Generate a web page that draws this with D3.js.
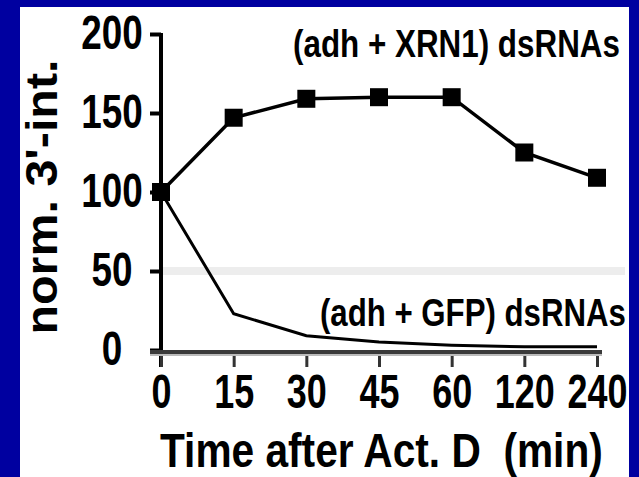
<!DOCTYPE html>
<html>
<head>
<meta charset="utf-8">
<script src="https://cdn.jsdelivr.net/npm/d3@7"></script>
<style>
  body { margin: 0; background: #0000a0; }
  svg { display: block; }
  text { font-family: "Liberation Sans", Arial, sans-serif; font-weight: bold; fill: #000; }
</style>
</head>
<body>
<svg id="chart" width="639" height="477"></svg>
<script>
// values
const timeLabels = ['0', '15', '30', '45', '60', '120', '240']
const xrn1Values = [100, 147, 159, 160, 160, 125, 109]
const gfpValues = [100, 23, 9, 5, 3, 2, 2]
const yTicks = [0, 50, 100, 150, 200]
const refLevel = 50

const svg = d3.select('#chart')

// the figure uses a narrow bold face, so squeeze text horizontally to a given width
function squeeze (node, width, pre) {
  let s = width / node.getComputedTextLength()
  let t = d3.select(node)
  let x0 = +t.attr('x') || 0
  t.attr('x', x0 / s)
  t.attr('transform', (pre || '') + ' scale(' + s + ',1)')
}

// white panel on the blue slide
svg.append('rect')
  .attr('x', 20).attr('y', 7)
  .attr('width', 609).attr('height', 470)
  .attr('fill', '#fff')

const x = d3.scalePoint()
  .domain(timeLabels)
  .range([161, 597])

const y = d3.scaleLinear()
  .domain([0, 200])
  .range([350, 34])

// faint 50% line
svg.append('line')
  .attr('x1', 163).attr('x2', 625)
  .attr('y1', y(refLevel)).attr('y2', y(refLevel))
  .attr('stroke', '#ededed')
  .attr('stroke-width', 8)

// y axis
const yAxis = svg.append('g')
  .attr('transform', 'translate(161,0)')
  .call(d3.axisLeft(y).tickValues(yTicks).tickSize(11).tickSizeOuter(0))
yAxis.select('.domain').remove()
yAxis.selectAll('.tick line').attr('stroke', '#000').attr('stroke-width', 4)
yAxis.selectAll('.tick text')
  .attr('x', -49)
  .attr('dy', '0.3em')
  .attr('text-anchor', 'middle')
  .attr('font-size', 48)
  .each(function (d) { squeeze(this, String(d).length * 20.5) })
yAxis.append('line')
  .attr('x1', 0).attr('x2', 0)
  .attr('y1', 33).attr('y2', 367)
  .attr('stroke', '#000')
  .attr('stroke-width', 4)

// x axis
const xAxis = svg.append('g')
  .attr('transform', 'translate(0,352)')
  .call(d3.axisBottom(x).tickSize(15).tickPadding(7).tickSizeOuter(0))
xAxis.select('.domain').remove()
xAxis.selectAll('.tick line').attr('stroke', '#333').attr('stroke-width', 3)
xAxis.selectAll('.tick text')
  .attr('font-size', 48)
  .each(function (d) { squeeze(this, d.length * 20) })
xAxis.append('line')
  .attr('x1', 150).attr('x2', 602)
  .attr('y1', 0).attr('y2', 0)
  .attr('stroke', '#3a3a3a')
  .attr('stroke-width', 4)
xAxis.append('line')
  .attr('x1', 150).attr('x2', 602)
  .attr('y1', 3).attr('y2', 3)
  .attr('stroke', '#bbb')
  .attr('stroke-width', 2)

// series
const line = d3.line()
  .x((d, i) => x(timeLabels[i]))
  .y(d => y(d))

svg.append('path')
  .datum(gfpValues)
  .attr('d', line)
  .attr('fill', 'none')
  .attr('stroke', '#000')
  .attr('stroke-width', 3)

svg.append('path')
  .datum(xrn1Values)
  .attr('d', line)
  .attr('fill', 'none')
  .attr('stroke', '#000')
  .attr('stroke-width', 3.5)

svg.selectAll('rect.marker')
  .data(xrn1Values)
  .enter()
  .append('rect')
  .attr('class', 'marker')
  .attr('x', (d, i) => x(timeLabels[i]) - 9)
  .attr('y', d => y(d) - 9)
  .attr('width', 18)
  .attr('height', 18)
  .attr('fill', '#000')

// labels
let t1 = svg.append('text')
  .attr('x', 293).attr('y', 57)
  .attr('font-size', 38)
  .text('(adh + XRN1) dsRNAs')
squeeze(t1.node(), 327)

let t2 = svg.append('text')
  .attr('x', 320).attr('y', 326)
  .attr('font-size', 38)
  .text('(adh + GFP) dsRNAs')
squeeze(t2.node(), 306)

let t3 = svg.append('text')
  .attr('x', 160).attr('y', 467)
  .attr('font-size', 48)
  .style('white-space', 'pre')
  .text('Time after Act. D  (min)')
squeeze(t3.node(), 443)

let t4 = svg.append('text')
  .attr('text-anchor', 'middle')
  .attr('font-size', 44)
  .text("norm. 3'-int.")
squeeze(t4.node(), 275, 'translate(57,197) rotate(-90)')
</script>
</body>
</html>
